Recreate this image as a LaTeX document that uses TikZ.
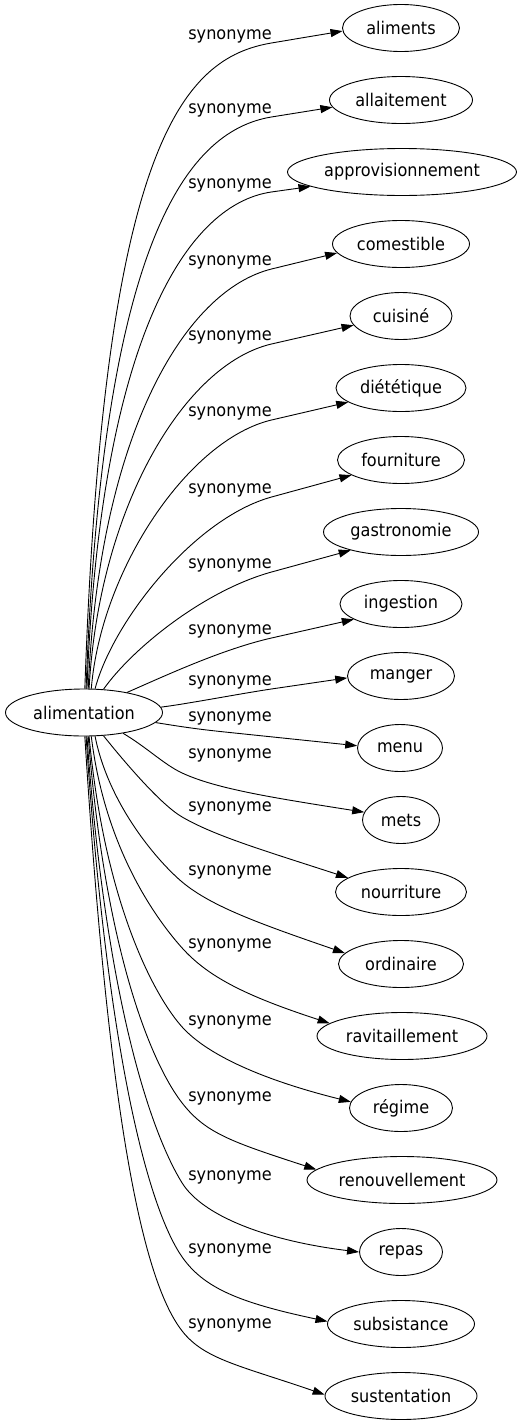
\documentclass[tikz,border=0pt]{standalone}
\usepackage{fontspec}
\setmainfont{DejaVu Sans}[FakeStretch=0.92]
\usetikzlibrary{arrows.meta,calc,shapes.geometric}

\tikzset{
  word/.style={draw, ellipse, line width=0.9pt, minimum height=47pt, inner sep=0pt, font=\fontsize{17.5}{20}\selectfont},
  syn/.style={inner sep=0pt, font=\fontsize{17.5}{20}\selectfont},
  rel/.style={draw, line width=0.9pt, -{Triangle[length=12pt,width=8pt]}},
}

\begin{document}
\begin{tikzpicture}[x=1pt,y=-1pt]
  \useasboundingbox (0,0) rectangle (520,1427);

  \node[word,minimum width=157pt] (alimentation) at (84,712.5) {alimentation};

  \node[word,minimum width=117pt] (aliments) at (401,28) {aliments};
  \node[word,minimum width=143pt] (allaitement) at (401,100) {allaitement};
  \node[word,minimum width=229pt] (approvisionnement) at (402,172) {approvisionnement};
  \node[word,minimum width=137pt] (comestible) at (401,244) {comestible};
  \node[word,minimum width=102pt] (cuisine) at (401,316) {cuisiné};
  \node[word,minimum width=130pt] (dietetique) at (401,388) {diététique};
  \node[word,minimum width=127pt] (fourniture) at (401,460) {fourniture};
  \node[word,minimum width=155pt] (gastronomie) at (401,532) {gastronomie};
  \node[word,minimum width=122pt] (ingestion) at (401,604) {ingestion};
  \node[word,minimum width=107pt] (manger) at (401,676) {manger};
  \node[word,minimum width=85pt] (menu) at (400,748) {menu};
  \node[word,minimum width=77pt] (mets) at (401,820) {mets};
  \node[word,minimum width=131pt] (nourriture) at (401,892) {nourriture};
  \node[word,minimum width=125pt] (ordinaire) at (401,964) {ordinaire};
  \node[word,minimum width=170pt] (ravitaillement) at (402,1036) {ravitaillement};
  \node[word,minimum width=103pt] (regime) at (401,1108) {régime};
  \node[word,minimum width=190pt] (renouvellement) at (402,1180) {renouvellement};
  \node[word,minimum width=83pt] (repas) at (401,1252) {repas};
  \node[word,minimum width=147pt] (subsistance) at (401,1324) {subsistance};
  \node[word,minimum width=152pt] (sustentation) at (401,1396) {sustentation};

  % labels
  \node[syn] (l1) at (230,36) {synonyme};
  \node[syn] (l2) at (230,110) {synonyme};
  \node[syn] (l3) at (230,185) {synonyme};
  \node[syn] (l4) at (230,262) {synonyme};
  \node[syn] (l5) at (230,337) {synonyme};
  \node[syn] (l6) at (230,413) {synonyme};
  \node[syn] (l7) at (230,490) {synonyme};
  \node[syn] (l8) at (230,565) {synonyme};
  \node[syn] (l9) at (230,631) {synonyme};
  \node[syn] (l10) at (230,682) {synonyme};
  \node[syn] (l11) at (230,718) {synonyme};
  \node[syn] (l12) at (230,755) {synonyme};
  \node[syn] (l13) at (230,808) {synonyme};
  \node[syn] (l14) at (230,872) {synonyme};
  \node[syn] (l15) at (230,945) {synonyme};
  \node[syn] (l16) at (230,1022) {synonyme};
  \node[syn] (l17) at (230,1098) {synonyme};
  \node[syn] (l18) at (230,1177) {synonyme};
  \node[syn] (l19) at (230,1250) {synonyme};
  \node[syn] (l20) at (230,1325) {synonyme};

  % bends beside the lower labels
  \coordinate (k11) at ($(l11)+(-5,14)$);
  \coordinate (k12) at ($(l12.west)+(-6,18)$);
  \coordinate (k13) at ($(l13.west)+(-6,9)$);
  \coordinate (k14) at ($(l14.west)+(-6,10)$);
  \coordinate (k15) at ($(l15.west)+(-6,3)$);
  \coordinate (k16) at ($(l16.west)+(-6,5)$);
  \coordinate (k17) at ($(l17.west)+(-6,5)$);
  \coordinate (k18) at ($(l18.west)+(-6,6)$);
  \coordinate (k19) at ($(l19.west)+(-6,7)$);
  \coordinate (k20) at ($(l20.west)+(-6,6)$);

  % upper edges
  \draw[rel] (alimentation.88) .. controls +(19,-546) and ($(l1.south east)!-90pt!(aliments.183)$) .. (l1.south east) -- (aliments.183);
  \draw[rel] (alimentation.85) .. controls +(16,-437) and ($(l2.south east)!-90pt!(allaitement.186)$) .. (l2.south east) -- (allaitement.186);
  \draw[rel] (alimentation.83) .. controls +(13,-340) and ($(l3.south east)!-90pt!(approvisionnement.189)$) .. (l3.south east) -- (approvisionnement.189);
  \draw[rel] (alimentation.80) .. controls +(11,-254) and ($(l4.south east)!-90pt!(comestible.188)$) .. (l4.south east) -- (comestible.188);
  \draw[rel] (alimentation.78) .. controls +(10,-181) and ($(l5.south east)!-90pt!(cuisine.191)$) .. (l5.south east) -- (cuisine.191);
  \draw[rel] (alimentation.73) .. controls +(10,-120) and ($(l6.south east)!-85pt!(dietetique.195)$) .. (l6.south east) -- (dietetique.195);
  \draw[rel] (alimentation.65) .. controls +(18,-68) and ($(l7.south east)!-80pt!(fourniture.197)$) .. (l7.south east) -- (fourniture.197);
  \draw[rel] (alimentation.50) .. controls +(29,-41) and ($(l8.south east)!-70pt!(gastronomie.200)$) .. (l8.south east) -- (gastronomie.200);
  \draw[rel] (alimentation.25) .. controls +(41,-18) and ($(l9.south east)!-50pt!(ingestion.198)$) .. (l9.south east) -- (ingestion.198);
  \draw[rel] (alimentation.4) .. controls +(25,-3) and ($(l10.south east)!-30pt!(manger.182)$) .. (l10.south east) -- (manger.182);

  % lower edges
  \draw[rel] (alimentation.-8) .. controls +(25,4) and ($(k11)!-30pt!(menu.177)$) .. (k11) -- (menu.177);
  \draw[rel] (alimentation.-28) .. controls +(25,15) and +(205:20) .. (k12) .. controls +(25:38) and +(189:90) .. (mets.168);
  \draw[rel] (alimentation.-50) .. controls +(20,25) and +(210:25) .. (k13) .. controls +(30:38) and +(198:90) .. (nourriture.165);
  \draw[rel] (alimentation.-65) .. controls +(14,70) and +(220:30) .. (k14) .. controls +(40:38) and +(199:90) .. (ordinaire.169);
  \draw[rel] (alimentation.-73) .. controls +(14,115) and +(228:35) .. (k15) .. controls +(48:38) and +(198:90) .. (ravitaillement.170);
  \draw[rel] (alimentation.-78) .. controls +(16,170) and +(228:40) .. (k16) .. controls +(48:38) and +(194:90) .. (regime.173);
  \draw[rel] (alimentation.-80) .. controls +(18,225) and +(232:45) .. (k17) .. controls +(52:38) and +(198:90) .. (renouvellement.173);
  \draw[rel] (alimentation.-83) .. controls +(20,280) and +(238:50) .. (k18) .. controls +(58:38) and +(187:95) .. (repas.180);
  \draw[rel] (alimentation.-85) .. controls +(22,330) and +(235:55) .. (k19) .. controls +(55:38) and +(192:90) .. (subsistance.178);
  \draw[rel] (alimentation.-88) .. controls +(25,400) and +(232:60) .. (k20) .. controls +(52:36) and +(199:90) .. (sustentation.179);
\end{tikzpicture}
\end{document}
